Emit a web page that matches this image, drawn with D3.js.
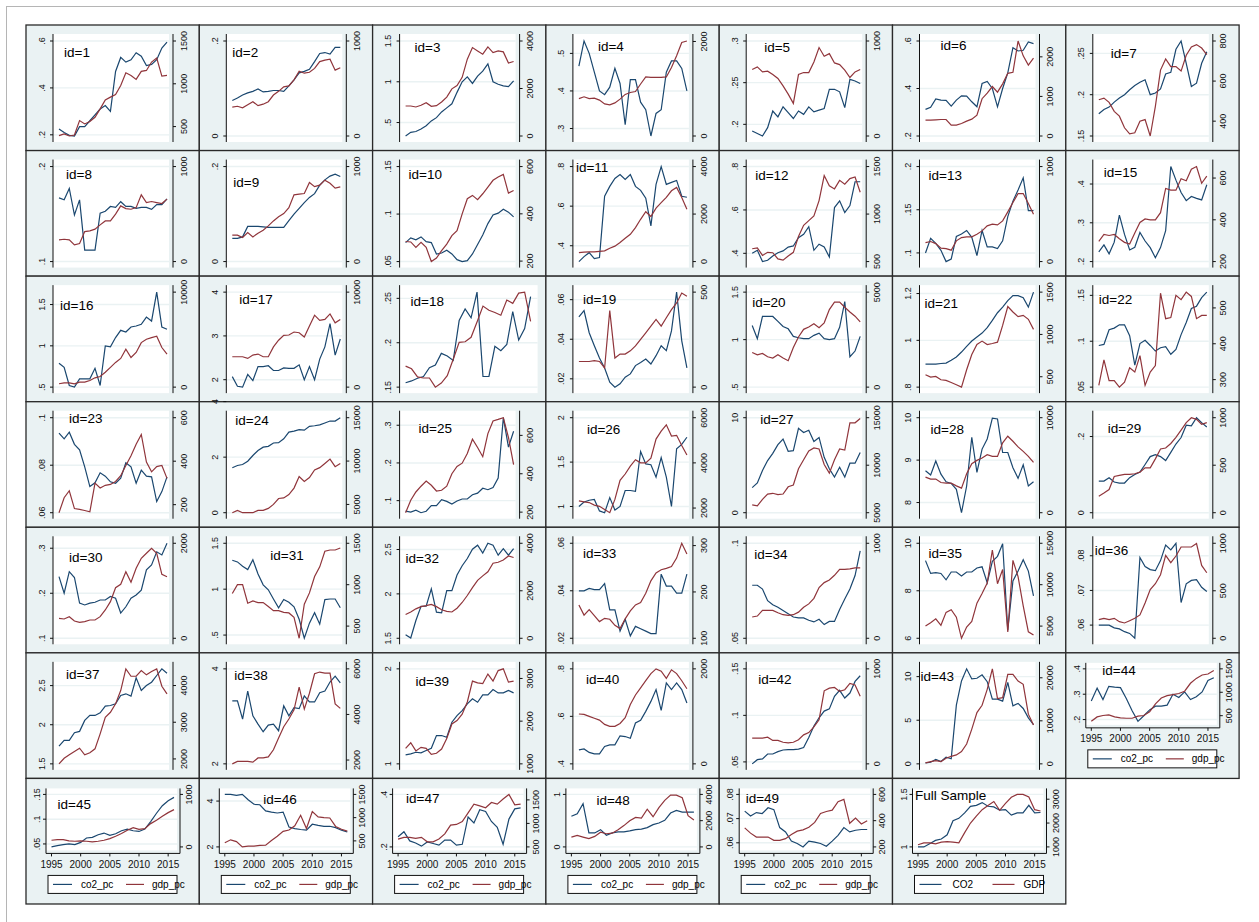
<!DOCTYPE html>
<html>
<head>
<meta charset="utf-8">
<script src="https://cdn.jsdelivr.net/npm/d3@7/dist/d3.min.js"></script>
<style>
  body { margin: 0; background: #fff; }
  svg { display: block; font-family: "Liberation Sans", Arial, sans-serif; }
</style>
</head>
<body>
<div id="graph"></div>
<script>
var years = [1995,1996,1997,1998,1999,2000,2001,2002,2003,2004,2005,2006,2007,2008,2009,2010,2011,2012,2013,2014,2015,2016];
var xTicks = [1995, 2000, 2005, 2010, 2015];

var panelNames = ["id=1","id=2","id=3","id=4","id=5","id=6","id=7",
  "id=8","id=9","id=10","id=11","id=12","id=13","id=15",
  "id=16","id=17","id=18","id=19","id=20","id=21","id=22",
  "id=23","id=24","id=25","id=26","id=27","id=28","id=29",
  "id=30","id=31","id=32","id=33","id=34","id=35","id=36",
  "id=37","id=38","id=39","id=40","id=42","id=43","id=44",
  "id=45","id=46","id=47","id=48","id=49","Full Sample"];

var legendLabels = ["co2_pc", "gdp_pc"];
var fullLegendLabels = ["CO2", "GDP"];

// co2 per capita, one row per panel (left axis)
var co2Series = [
  [.225,.21,.198,.195,.235,.235,.26,.285,.31,.325,.30,.47,.53,.51,.52,.55,.535,.495,.50,.52,.57,.595],
  [.0748,.0799,.0863,.0907,.0939,.099,.0927,.0939,.0958,.0958,.0939,.1054,.1182,.1329,.1361,.1406,.1565,.1738,.1757,.1725,.1866,.1866],
  [.335,.38,.39,.42,.46,.52,.56,.63,.68,.73,.87,1.0,1.06,.98,1.07,1.13,1.22,1.0,.97,.95,.94,1.01],
  [.466,.533,.50,.45,.40,.39,.41,.46,.42,.31,.43,.43,.37,.35,.28,.34,.35,.45,.48,.48,.46,.40],
  [.192,.189,.186,.196,.216,.209,.221,.214,.207,.216,.212,.221,.215,.217,.219,.242,.242,.239,.220,.254,.252,.249],
  [.312,.321,.356,.351,.35,.326,.351,.369,.368,.344,.323,.421,.43,.40,.323,.40,.466,.572,.558,.561,.596,.589],
  [.177,.182,.185,.191,.196,.20,.206,.211,.215,.218,.20,.202,.207,.225,.227,.255,.265,.238,.21,.214,.238,.252],
  [.167,.165,.177,.149,.165,.112,.112,.112,.151,.153,.158,.157,.163,.158,.158,.156,.157,.157,.155,.160,.160,.166],
  [.049,.049,.052,.074,.074,.074,.073,.072,.072,.072,.072,.086,.10,.112,.124,.135,.143,.161,.172,.180,.184,.179],
  [.070,.075,.073,.076,.071,.070,.058,.059,.062,.058,.052,.050,.051,.058,.068,.078,.090,.099,.101,.105,.102,.097],
  [.32,.345,.365,.335,.34,.65,.70,.74,.76,.735,.76,.70,.68,.64,.50,.71,.80,.71,.72,.73,.65,.645],
  [.40,.414,.362,.368,.388,.403,.411,.429,.434,.472,.488,.523,.414,.442,.429,.383,.611,.642,.588,.62,.73,.73],
  [.10,.117,.111,.103,.090,.093,.119,.122,.126,.118,.097,.126,.107,.107,.105,.114,.142,.160,.173,.187,.149,.149],
  [.225,.243,.22,.25,.32,.27,.23,.237,.275,.253,.236,.21,.236,.28,.445,.41,.378,.357,.368,.363,.359,.398],
  [.79,.74,.52,.50,.60,.60,.60,.728,.52,1.0,.988,1.10,1.188,1.168,1.228,1.24,1.26,1.348,1.30,1.65,1.228,1.20],
  [2.07,1.85,1.83,2.12,1.98,2.30,2.30,2.32,2.21,2.21,2.27,2.26,2.26,2.34,2.0,2.30,2.0,2.47,2.75,3.28,2.56,2.93],
  [.155,.157,.16,.162,.172,.175,.188,.185,.18,.225,.238,.228,.257,.162,.162,.196,.191,.198,.235,.203,.216,.252],
  [.0513,.0545,.0433,.0367,.0305,.0255,.0183,.0158,.0175,.0208,.0225,.0267,.0283,.030,.0275,.0317,.0367,.0342,.0442,.0638,.0392,.0255],
  [1.148,1.01,1.244,1.244,1.244,1.193,1.138,1.114,1.034,1.02,1.01,1.01,1.045,1.068,1.01,1.0,1.01,1.13,1.40,.82,.88,1.034],
  [.898,.898,.898,.901,.903,.915,.929,.95,.974,.997,1.014,1.031,1.054,1.085,1.118,1.142,1.17,1.191,1.191,1.182,1.142,1.206],
  [.0954,.0965,.1125,.1143,.1179,.1179,.1061,.074,.0975,.101,.0954,.0893,.0929,.094,.0858,.0911,.1072,.1204,.1357,.1382,.1475,.1535],
  [.0935,.0911,.0939,.0888,.0865,.0793,.071,.0726,.0768,.0754,.073,.0724,.0745,.081,.0793,.0724,.0779,.0754,.0751,.0647,.0689,.0751],
  [1.62,1.70,1.736,1.855,2.06,2.24,2.36,2.39,2.51,2.52,2.66,2.90,2.94,2.99,2.97,3.11,3.13,3.16,3.23,3.30,3.30,3.42],
  [.072,.0695,.0747,.068,.072,.087,.087,.1026,.098,.091,.0992,.1044,.1044,.1157,.12,.133,.129,.135,.16,.32,.242,.284],
  [1.0,1.05,1.07,1.08,.95,.93,1.10,.96,1.0,1.18,1.18,1.17,1.62,1.48,1.47,1.33,1.55,1.33,1.0,1.65,1.70,1.78],
  [2.64,3.13,4.45,5.49,6.25,7.16,7.75,6.46,6.53,8.89,8.44,8.68,7.5,7.92,5.83,4.62,3.75,4.79,3.75,5.21,5.21,6.35],
  [8.75,8.65,8.98,8.67,8.49,8.45,8.31,7.76,8.39,9.54,8.71,9.26,9.50,9.99,9.97,9.18,9.18,8.82,8.57,8.89,8.39,8.49],
  [.0831,.0831,.0919,.0805,.0779,.0779,.0919,.1005,.1065,.1265,.1473,.1525,.1473,.1369,.1584,.1803,.1974,.2296,.2278,.2494,.2364,.2252],
  [.237,.20,.248,.235,.178,.174,.178,.18,.185,.185,.193,.189,.156,.17,.189,.196,.207,.252,.263,.292,.285,.311],
  [1.315,1.297,1.25,1.214,1.321,1.165,1.047,.993,.893,.797,.887,.858,.807,.672,.465,.63,.743,.619,.887,.893,.893,.797],
  [1.54,1.503,1.70,1.861,1.861,2.056,1.794,1.787,2.037,2.037,2.213,2.317,2.398,2.503,2.548,2.459,2.57,2.548,2.436,2.51,2.436,2.51],
  [.040,.040,.041,.0405,.0405,.043,.032,.032,.023,.028,.021,.025,.024,.023,.022,.022,.047,.042,.042,.039,.039,.047],
  [.0779,.0779,.0759,.0698,.0676,.0663,.0646,.0629,.0612,.0607,.0607,.0595,.0586,.06,.0572,.0589,.0589,.0652,.0707,.0759,.083,.096],
  [9.27,8.73,8.76,8.73,8.46,8.79,8.79,8.62,8.79,8.79,8.96,9.01,8.34,9.24,9.45,9.98,6.34,8.41,8.83,9.31,8.83,7.79],
  [.060,.060,.060,.0592,.0589,.0581,.0576,.0562,.0795,.0769,.076,.0757,.0786,.0831,.0817,.0836,.0665,.0719,.0729,.0731,.0709,.0697],
  [1.727,1.80,1.80,1.898,1.915,2.055,2.119,2.119,2.153,2.237,2.246,2.268,2.374,2.395,2.365,2.60,2.438,2.50,2.543,2.629,2.714,2.658],
  [3.324,3.324,2.94,3.533,3.01,2.837,2.676,2.816,2.837,2.697,3.22,3.01,3.184,3.163,3.429,3.303,3.303,3.498,3.533,3.722,3.847,3.707],
  [1.095,1.105,1.122,1.116,1.14,1.164,1.298,1.298,1.28,1.438,1.508,1.561,1.632,1.684,1.648,1.726,1.726,1.782,1.747,1.747,1.772,1.747],
  [.459,.463,.448,.442,.442,.473,.48,.48,.518,.515,.508,.572,.583,.621,.663,.713,.625,.741,.713,.741,.713,.656],
  [.0479,.0524,.0532,.0585,.0585,.061,.0628,.0631,.0631,.0638,.0655,.0762,.0886,.0974,.1046,.107,.1205,.1269,.1187,.124,.1365,.1426],
  [.115,.185,.50,.27,.76,.58,6.73,9.50,10.89,9.73,9.81,10.2,9.42,7.42,7.42,7.19,9.35,6.65,6.93,6.35,5.27,4.50],
  [.273,.324,.279,.331,.328,.326,.283,.235,.193,.215,.238,.253,.253,.257,.30,.287,.309,.279,.29,.309,.354,.365],
  [.044,.0466,.0486,.05,.0486,.0532,.062,.0632,.0686,.072,.0672,.0706,.0766,.08,.0766,.0752,.08,.0952,.112,.1272,.1372,.144],
  [4.29,4.29,4.25,4.29,4.06,3.86,3.84,3.57,3.52,3.48,3.52,2.87,2.80,2.76,2.73,2.99,2.94,2.90,2.90,2.84,2.73,2.65],
  [.239,.258,.223,.215,.203,.219,.213,.207,.226,.226,.207,.21,.314,.291,.342,.335,.297,.275,.21,.306,.345,.349],
  [.583,.633,.823,.266,.266,.329,.222,.266,.285,.285,.304,.329,.34,.368,.425,.456,.507,.645,.696,.664,.664,.664],
  [.0731,.0711,.0725,.0721,.0745,.0737,.0663,.0645,.0607,.0597,.0583,.0607,.0603,.0597,.0586,.0607,.0631,.0663,.0645,.0652,.0655,.0655],
  [1.0,1.0,1.031,1.062,1.075,1.115,1.249,1.272,1.324,1.387,1.396,1.422,1.387,1.381,1.35,1.356,1.303,1.324,1.324,1.396,1.324,1.328]
];

// gdp per capita, one row per panel (right axis)
var gdpSeries = [
  [395,414,390,402,570,531,559,609,707,812,844,875,980,1129,1098,1051,1145,1156,1254,1300,1090,1098],
  [304,313,297,329,361,319,335,361,431,470,518,527,591,681,661,671,712,783,799,808,693,719],
  [1264,1264,1222,1292,1403,1250,1278,1430,1639,1986,2125,2472,3236,3722,3583,3444,3750,3514,3583,3541,3069,3139],
  [790,830,790,800,760,680,660,700,780,880,920,940,1100,1250,1240,1240,1240,1250,1450,1700,1980,2010],
  [700,727,675,682,647,605,528,441,343,647,668,668,780,931,839,867,769,752,693,616,675,700],
  [400,400,408,417,417,275,275,317,375,425,525,942,1083,1250,1108,1317,1583,1608,2400,2025,1792,1967],
  [507,515,494,449,425,367,337,342,400,408,326,474,655,710,672,672,650,729,770,782,765,732],
  [228,235,228,176,190,316,323,341,386,428,428,499,586,558,551,568,702,621,632,621,611,657],
  [278,278,253,305,260,299,330,376,428,471,505,568,702,709,716,832,789,804,857,825,773,786],
  [283,281,258,279,258,198,213,244,272,308,329,400,464,478,460,485,513,542,556,567,488,499],
  [380,395,410,410,430,450,560,650,800,980,1150,1430,1780,2100,1900,2250,2480,2700,2980,3120,2700,2200],
  [635,643,565,597,593,528,515,558,597,765,882,931,980,1142,1405,1297,1265,1355,1315,1373,1390,1230],
  [200,211,189,141,137,120,218,253,260,260,288,323,376,394,386,428,523,621,716,716,611,499],
  [297,330,325,330,309,292,284,337,387,404,400,400,434,550,542,542,597,587,642,655,575,609],
  [354,458,458,354,521,521,698,979,1115,1563,2083,2604,3021,4000,3125,3646,4688,5042,5208,5354,4167,3479],
  [3198,3198,3198,3021,3375,3479,3198,3198,4240,4938,5458,5490,5802,5729,5281,6427,7573,7021,7125,7708,6771,7125],
  [1309,1270,1150,1135,1135,1000,1060,1170,1410,1660,1669,1735,1960,2194,2134,2100,2059,2284,2235,2385,2400,1969],
  [135,135,135,139,135,101,403,153,174,174,191,217,252,286,321,356,321,365,408,443,495,478],
  [1823,1703,1771,1599,1531,1703,1531,1391,2083,2641,3042,3161,3333,3125,3385,4083,4479,4479,4203,3958,3734,3438],
  [524,496,504,464,456,432,405,377,583,762,881,921,881,893,909,1107,1330,1265,1210,1226,1179,1060],
  [284,355,297,297,279,293,333,321,367,284,321,339,541,470,473,535,523,544,532,470,479,479],
  [163,232,264,182,178,173,167,299,277,289,293,307,333,380,425,478,523,396,351,375,380,321],
  [4045,4318,4045,4045,4045,4318,4318,4545,5000,5682,5750,6136,6886,8216,7648,8102,8977,9239,9727,10227,9352,9727],
  [197,262,305,335,362,340,310,314,335,400,438,455,506,580,537,489,609,675,683,692,589,448],
  [2316,2274,2244,2130,2076,1937,1794,2383,3225,3507,3857,4139,4000,4000,4210,5052,5402,5684,5191,5220,4770,4349],
  [5830,5716,6398,6966,7045,6898,6966,7727,7920,9625,10568,11511,11818,11705,10080,9170,10568,11705,11591,14466,14466,14920],
  [3750,3538,3538,3178,3114,3114,2828,2585,4100,5159,5508,5763,6112,5932,5932,7352,8051,7521,6928,6462,5932,5297],
  [174,208,244,382,393,403,403,410,427,473,473,567,671,681,729,792,869,948,1000,983,931,948],
  [421,406,455,364,337,350,385,385,455,596,771,1065,1137,1402,1179,1474,1684,1789,1895,1789,1347,1297],
  [894,1000,1000,776,804,784,784,737,686,686,666,659,607,353,765,901,1098,1215,1404,1419,1419,1443],
  [1000,1107,1240,1333,1373,1427,1333,1200,1133,1107,1267,1507,1800,2133,2440,2627,2800,3160,3200,3293,3467,3400],
  [172,150,162,149,136,143,141,128,121,142,159,172,177,197,224,241,248,251,255,273,305,282],
  [224,234,293,293,293,269,248,241,248,275,327,362,420,534,586,614,663,725,725,731,741,741],
  [5012,5412,5882,5094,6659,6976,6071,3529,4894,5565,7765,8941,10188,14188,10118,11835,4306,12941,10976,7447,4306,3918],
  [196,210,196,210,175,161,185,210,246,372,513,574,669,873,796,866,961,961,961,997,767,690],
  [1866,2019,2111,2202,2292,2111,2166,2275,2684,3136,3272,3501,3864,4455,4254,4254,4409,4291,4381,4455,3981,3774],
  [1833,1940,1940,1940,1907,2093,2093,2140,2451,2963,3460,3800,4205,5195,4233,4930,5786,5860,5814,5814,4465,4265],
  [1363,1493,1304,1387,1363,1223,1248,1346,1591,1934,2015,2162,2449,2939,2897,2882,3103,2939,3184,3225,2914,2939],
  [1050,1040,1000,960,920,830,790,790,850,970,1250,1450,1600,1750,1900,2000,1950,1800,1980,1900,1750,1580],
  [271,271,271,281,247,247,227,220,227,254,305,329,390,464,769,797,804,763,780,847,830,712],
  [231,531,762,531,1293,1755,2079,2841,4619,8083,11917,13626,17321,22079,15150,15381,20785,20785,19238,18476,11547,9007],
  [379,474,504,518,474,452,445,445,489,504,584,753,878,929,951,973,1023,1192,1296,1368,1390,1463],
  [127,140,140,114,108,114,108,95,108,127,159,203,254,317,368,336,349,444,507,583,653,710],
  [461,523,484,370,386,386,402,409,507,598,705,734,825,1052,766,1130,1015,1000,993,811,750,711],
  [667,704,704,682,704,609,609,667,778,964,978,1038,1222,1409,1371,1333,1444,1409,1520,1616,1393,1409],
  [749,876,749,629,801,1124,1004,1049,1303,1625,2000,2247,2202,2876,2300,2996,3550,3948,3948,3745,2375,2052],
  [345,305,275,275,275,250,250,263,295,320,330,350,387,455,470,480,545,562,380,420,375,400],
  [1092,1172,1172,1132,1200,1224,1200,1172,1600,2000,2292,2560,2740,2904,2532,2824,3080,3200,3200,3092,2560,2504]
];

var leftTicks = [
  [.2,.4,.6],[0,.2],[.5,1,1.5],[.3,.4,.5],[.2,.25,.3],[.2,.4,.6],[.15,.2,.25],
  [.1,.2],[0,.2],[.05,.1,.15],[.4,.6,.8],[.4,.6,.8],[.1,.15,.2],[.2,.3,.4],
  [.5,1,1.5],[2,3,4],[.15,.2,.25],[.02,.04,.06],[.5,1,1.5],[.8,1,1.2],[.05,.1,.15],
  [.06,.08,.1],[0,2,4],[.1,.2,.3],[1,1.5,2],[0,10],[8,9,10],[0,.2],
  [.1,.2,.3],[.5,1,1.5],[1.5,2,2.5],[.02,.04,.06],[.05,.1],[6,8,10],[.06,.07,.08],
  [1.5,2,2.5],[2,4],[1,2],[.4,.6,.8],[.05,.1,.15],[0,5,10],[.2,.3,.4],
  [.05,.1,.15],[2,4],[.2,.4],[0,1],[.06,.07,.08],[1,1.5]
];

var rightTicks = [
  [500,1000,1500],[0,1000],[0,2000,4000],[0,2000],[0,1000],[0,1000,2000],[400,600,800],
  [0,1000],[0,1000],[200,400,600],[0,2000,4000],[500,1000,1500],[0,1000],[200,400,600],
  [0,10000],[0,10000],[],[0,500],[0,5000],[500,1000,1500],[300,400,500],
  [200,400,600],[5000,10000,15000],[200,400,600],[2000,4000,6000],[5000,10000,15000],[0,10000],[0,500,1000],
  [0,2000],[500,1000,1500],[0,2000,4000],[100,200,300],[0,1000],[5000,10000,15000],[0,500,1000],
  [2000,3000,4000],[2000,4000,6000],[1000,2000,3000],[0,2000],[0,1000],[0,10000,20000],[500,1000,1500],
  [0,1000],[500,1000,1500],[500,1000,1500],[0,2000,4000],[200,400,600],[1000,2000,3000]
];

// ticks that are drawn but left out of the axis range (id=24 shows a stray "4")
var ticksOutsideRange = { "id=24": [4] };

// where each panel title sits: [dx from first year, baseline from panel top]
var titleOffsets = [
  [5,31.7],[0,31.7],[9,27.3],[19,26],[12,27.3],[15,25],[12,33.3],
  [7,28.5],[1,36],[3,28.5],[-3,21],[3,29.5],[3,29.5],[5,26],
  [1,34],[7,28.3],[5,29.7],[4,28.3],[0,30.7],[-1,32.3],[0,28.3],
  [10,20.8],[3,23.5],[13,30.8],[8,31.8],[8,21.8],[5,31.8],[9,30.8],
  [10,34.7],[38,32.3],[0,35.7],[4,30.3],[2,31.3],[3,30.3],[-4,28],
  [7,25.8],[2,26.8],[10,33.5],[7,31.5],[6,31.5],[-5,28.2],[11,21.8],
  [6,30.3],[38.5,25.3],[8,24.3],[25,27],[1,24.3],[-3,22]
];

var width = 1259, height = 922;
var colW = 173.3, rowH = 125.57, left0 = 26, top0 = 25;
var navy = "#1a476f", maroon = "#90353b", bluish = "#eaf2f3";

function fmt(v) {
  return String(+v.toFixed(6)).replace(/^0\./, ".");
}

var svg = d3.select("#graph")
  .append("svg")
    .attr("width", width)
    .attr("height", height);

// outer graph frame
svg.append("rect")
    .attr("x", 6.5).attr("y", 6.5)
    .attr("width", 1400).attr("height", 1000)
    .attr("fill", "#fff")
    .attr("stroke", "#b5b5b5");

panelNames.forEach(function(name, i) {
  var row = Math.floor(i / 7), col = i % 7;
  var x0 = left0 + col * colW, y0 = top0 + row * rowH;
  var short = row == 6 || name == "id=44";
  var noRight = rightTicks[i].length == 0;

  var g = svg.append("g");

  var geo = short ?
    { axL: x0 + 20, axR: x0 + 154, top: y0 + 10, bot: y0 + 75, whiteB: y0 + 72, whiteR: x0 + 151,
      dL: x0 + 25.5, dR: x0 + 148, inT: y0 + 16, inB: y0 + 68.5, gapL: 9, gapR: 9 } :
    { axL: x0 + 27, axR: x0 + 147, top: y0 + 9, bot: y0 + 117, whiteB: y0 + 117, whiteR: x0 + 143,
      dL: x0 + 33, dR: x0 + 141, inT: y0 + 16, inB: y0 + 111, gapL: 11.6, gapR: 10.5 };
  if (noRight) { geo.whiteR = x0 + 165; geo.dR = x0 + 158; }

  g.append("rect")
      .attr("x", x0).attr("y", y0)
      .attr("width", colW).attr("height", rowH)
      .attr("fill", bluish)
      .attr("stroke", "#2a2a2a")
      .attr("stroke-width", 1.3);

  g.append("rect")
      .attr("x", geo.axL).attr("y", geo.top)
      .attr("width", geo.whiteR - geo.axL).attr("height", geo.whiteB - geo.top)
      .attr("fill", "#fff");

  var skip = ticksOutsideRange[name] || [];
  var lt = leftTicks[i].filter(function(t) { return skip.indexOf(t) < 0; });

  var x = d3.scaleLinear().domain([1995, 2016]).range([geo.dL, geo.dR]);
  var yL = d3.scaleLinear()
      .domain(d3.extent(co2Series[i].concat(lt)))
      .range([geo.inB, geo.inT]);
  var yR = d3.scaleLinear()
      .domain(d3.extent(gdpSeries[i].concat(rightTicks[i])))
      .range([geo.inB, geo.inT]);

  // grid lines at the left axis ticks
  g.selectAll(".grid")
    .data(lt)
    .enter()
      .append("line")
      .attr("x1", geo.axL).attr("x2", geo.whiteR)
      .attr("y1", function(d) { return yL(d); })
      .attr("y2", function(d) { return yL(d); })
      .attr("stroke", bluish)
      .attr("stroke-width", 1.4);

  var lineL = d3.line()
      .x(function(d, k) { return x(years[k]); })
      .y(function(d) { return yL(d); });
  var lineR = d3.line()
      .x(function(d, k) { return x(years[k]); })
      .y(function(d) { return yR(d); });

  g.append("path")
      .attr("d", lineL(co2Series[i]))
      .attr("fill", "none")
      .attr("stroke", navy)
      .attr("stroke-width", 1.2);
  g.append("path")
      .attr("d", lineR(gdpSeries[i]))
      .attr("fill", "none")
      .attr("stroke", maroon)
      .attr("stroke-width", 1.2);

  // left axis
  g.append("line")
      .attr("x1", geo.axL).attr("x2", geo.axL)
      .attr("y1", geo.top).attr("y2", geo.bot)
      .attr("stroke", "#111");
  leftTicks[i].forEach(function(t) {
    var yy = yL(t);
    g.append("line")
        .attr("x1", geo.axL - 3).attr("x2", geo.axL)
        .attr("y1", yy).attr("y2", yy)
        .attr("stroke", "#111");
    g.append("text")
        .attr("transform", "translate(" + (geo.axL - geo.gapL) + "," + yy + ") rotate(-90)")
        .attr("text-anchor", "middle")
        .attr("dy", "0.35em")
        .attr("font-size", 9)
        .attr("fill", "#111")
        .text(fmt(t));
  });

  // right axis
  if (!noRight) {
    g.append("line")
        .attr("x1", geo.axR).attr("x2", geo.axR)
        .attr("y1", geo.top).attr("y2", geo.bot)
        .attr("stroke", "#111");
    rightTicks[i].forEach(function(t) {
      var yy = yR(t);
      g.append("line")
          .attr("x1", geo.axR).attr("x2", geo.axR + 3)
          .attr("y1", yy).attr("y2", yy)
          .attr("stroke", "#111");
      g.append("text")
          .attr("transform", "translate(" + (geo.axR + geo.gapR) + "," + yy + ") rotate(-90)")
          .attr("text-anchor", "middle")
          .attr("dy", "0.35em")
          .attr("font-size", 9)
          .attr("fill", "#111")
          .text(fmt(t));
    });
  }

  // bottom axis and legend only on the last panel of each column
  if (short) {
    g.append("line")
        .attr("x1", geo.axL).attr("x2", geo.axR)
        .attr("y1", geo.bot).attr("y2", geo.bot)
        .attr("stroke", "#111");
    xTicks.forEach(function(t) {
      g.append("line")
          .attr("x1", x(t)).attr("x2", x(t))
          .attr("y1", geo.bot).attr("y2", geo.bot + 3)
          .attr("stroke", "#111");
      g.append("text")
          .attr("x", x(t)).attr("y", y0 + 89.5)
          .attr("text-anchor", "middle")
          .attr("font-size", 10)
          .attr("fill", "#111")
          .text(t);
    });

    var full = name == "Full Sample";
    var labs = full ? fullLegendLabels : legendLabels;
    var ly = y0 + 106;
    g.append("rect")
        .attr("x", x0 + 22).attr("y", y0 + 97)
        .attr("width", 129).attr("height", 18)
        .attr("fill", "#fff")
        .attr("stroke", "#111");
    g.append("line")
        .attr("x1", x0 + 27).attr("x2", x0 + (full ? 49 : 46))
        .attr("y1", ly).attr("y2", ly)
        .attr("stroke", navy).attr("stroke-width", 1.2);
    g.append("line")
        .attr("x1", x0 + 100).attr("x2", x0 + (full ? 122 : 118))
        .attr("y1", ly).attr("y2", ly)
        .attr("stroke", maroon).attr("stroke-width", 1.2);
    g.append("text")
        .attr("x", x0 + (full ? 60 : 55)).attr("y", ly + 3.5)
        .attr("font-size", 10)
        .text(labs[0]);
    g.append("text")
        .attr("x", x0 + (full ? 131 : 126)).attr("y", ly + 3.5)
        .attr("font-size", 10)
        .text(labs[1]);
  }

  g.append("text")
      .attr("x", geo.dL + titleOffsets[i][0])
      .attr("y", y0 + titleOffsets[i][1])
      .attr("font-size", 13.5)
      .attr("fill", "#000")
      .text(name);
});
</script>
</body>
</html>
